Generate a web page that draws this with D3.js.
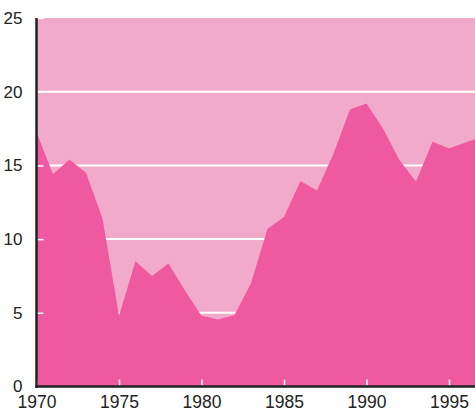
<!DOCTYPE html>
<html lang="en">
<head>
    <meta charset="UTF-8">
    <title>Area chart 1970-1997</title>
    <style>
        body { margin: 0; background: #fff; }
        text { font-family: "Liberation Sans", Arial, sans-serif; fill: #222; }
    </style>
</head>
<body>
    <div id="chart"></div>
    <script src="https://d3js.org/d3.v7.min.js"></script>
    <script>
        // values
        const years = [1970, 1971, 1972, 1973, 1974, 1975, 1976, 1977, 1978, 1979,
                       1980, 1981, 1982, 1983, 1984, 1985, 1986, 1987, 1988, 1989,
                       1990, 1991, 1992, 1993, 1994, 1995, 1996, 1997];
        const values = [17.25, 14.4, 15.4, 14.5, 11.4, 4.8, 8.5, 7.5, 8.35, 6.5,
                        4.8, 4.55, 4.85, 7.0, 10.7, 11.5, 13.95, 13.3, 15.8, 18.8,
                        19.2, 17.5, 15.35, 13.9, 16.6, 16.15, 16.55, 16.95];
        const yTicks = [0, 5, 10, 15, 20, 25];
        const xTicks = [1970, 1975, 1980, 1985, 1990, 1995];

        const data = years.map((yr, i) => ({ year: yr, value: values[i] }));

        const width = 475, height = 410;
        const plotLeft = 36.5, plotTop = 18, plotBottom = 386.5;

        const svg = d3.select("#chart").append("svg")
            .attr("width", width)
            .attr("height", height);

        const x = d3.scaleLinear().domain([1970, 1995]).range([plotLeft, plotLeft + 25 * 16.5]);
        const y = d3.scaleLinear().domain([0, 25]).range([plotBottom, plotTop]);

        svg.append("clipPath").attr("id", "clip")
            .append("rect")
            .attr("x", plotLeft).attr("y", plotTop)
            .attr("width", width - plotLeft).attr("height", plotBottom - plotTop);

        // background
        svg.append("rect")
            .attr("x", plotLeft).attr("y", plotTop)
            .attr("width", width - plotLeft).attr("height", plotBottom - plotTop)
            .attr("fill", "#f2aacb");

        // gridlines
        svg.append("g")
            .selectAll("line")
            .data(yTicks.filter(d => d > 0 && d < 25))
            .enter().append("line")
            .attr("x1", plotLeft).attr("x2", width)
            .attr("y1", d => y(d)).attr("y2", d => y(d))
            .attr("stroke", "#fff")
            .attr("stroke-width", 2);

        // area
        const area = d3.area()
            .x(d => x(d.year))
            .y0(y(0))
            .y1(d => y(d.value));

        svg.append("path")
            .datum(data)
            .attr("clip-path", "url(#clip)")
            .attr("d", area)
            .attr("fill", "#ee59a0");

        // white ticks inside plot
        const yAxis = d3.axisLeft(y).tickValues(yTicks).tickSize(-7).tickPadding(14);
        const gy = svg.append("g")
            .attr("transform", `translate(${plotLeft},0)`)
            .call(yAxis);
        gy.select(".domain").remove();
        gy.selectAll(".tick line").attr("stroke", "#fff").attr("stroke-width", 1.5);
        gy.selectAll(".tick text")
            .attr("font-size", 17)
            .attr("fill", "#222");

        const xAxis = d3.axisBottom(x).tickValues(xTicks).tickFormat(d3.format("d"))
            .tickSize(-7).tickPadding(9);
        const gx = svg.append("g")
            .attr("transform", `translate(0,${plotBottom})`)
            .call(xAxis);
        gx.select(".domain").remove();
        gx.selectAll(".tick line").attr("stroke", "#fff").attr("stroke-width", 1.5);
        gx.selectAll(".tick text")
            .attr("font-size", 17.5)
            .attr("fill", "#222");

        // axis lines
        svg.append("line")
            .attr("x1", plotLeft).attr("x2", plotLeft)
            .attr("y1", plotTop).attr("y2", plotBottom + 1.5)
            .attr("stroke", "#222").attr("stroke-width", 2.5);
        svg.append("line")
            .attr("x1", plotLeft - 1).attr("x2", width)
            .attr("y1", plotBottom).attr("y2", plotBottom)
            .attr("stroke", "#222").attr("stroke-width", 2.5);
    </script>
</body>
</html>
